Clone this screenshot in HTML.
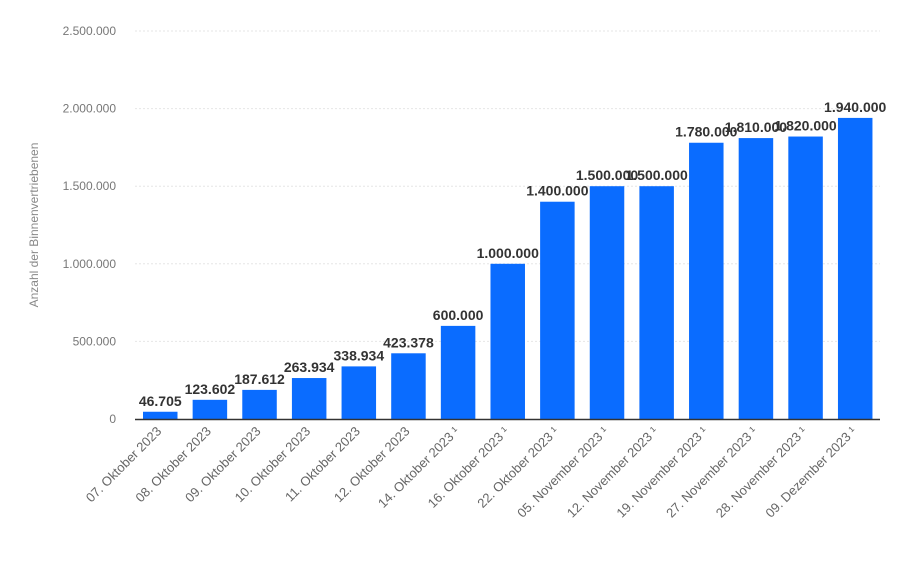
<!DOCTYPE html>
<html><head><meta charset="utf-8"><style>
html,body{margin:0;padding:0;background:#fff;}
svg{display:block;font-family:"Liberation Sans","DejaVu Sans",sans-serif;}
</style></head><body>
<svg id="chart" width="900" height="562">
<defs><clipPath id="clip"><rect x="0" y="0" width="887" height="562"/></clipPath></defs>
<text transform="translate(38,225) rotate(-90)" text-anchor="middle" font-size="12" fill="#888">Anzahl der Binnenvertriebenen</text>
<g id="grid"></g><g id="bars" clip-path="url(#clip)"></g><g id="xlabels"></g>
</svg>
<script>
const categories=["07. Oktober 2023","08. Oktober 2023","09. Oktober 2023","10. Oktober 2023","11. Oktober 2023","12. Oktober 2023","14. Oktober 2023 ¹","16. Oktober 2023 ¹","22. Oktober 2023 ¹","05. November 2023 ¹","12. November 2023 ¹","19. November 2023 ¹","27. November 2023 ¹","28. November 2023 ¹","09. Dezember 2023 ¹"];
const values=[46705,123602,187612,263934,338934,423378,600000,1000000,1400000,1500000,1500000,1780000,1810000,1820000,1940000];
const valueLabels=["46.705","123.602","187.612","263.934","338.934","423.378","600.000","1.000.000","1.400.000","1.500.000","1.500.000","1.780.000","1.810.000","1.820.000","1.940.000"];
const yTicks=[0,500000,1000000,1500000,2000000,2500000];
const yTickLabels=["0","500.000","1.000.000","1.500.000","2.000.000","2.500.000"];
const NS="http://www.w3.org/2000/svg";
const y0=419,yTop=31,yMax=2500000,x0=143,pitch=49.64,bw=34.5;
const y=v=>y0-(v/yMax)*(y0-yTop);
const x=i=>x0+i*pitch;
function mk(t,a,p){const e=document.createElementNS(NS,t);for(const k in a)e.setAttribute(k,a[k]);p.appendChild(e);return e;}
const grid=document.getElementById('grid'),bars=document.getElementById('bars'),xl=document.getElementById('xlabels');
yTicks.forEach((v,i)=>{
 if(i>0){const l=mk('line',{x1:135,x2:880,y1:y(v),y2:y(v),stroke:'#e6e6e6','stroke-dasharray':'2,2'},grid);
 
 }
 const t=mk('text',{x:116,y:y(v)+4,'text-anchor':'end','font-size':12,fill:'#777'},grid);
 
 
 t.textContent=yTickLabels[i];
});
values.forEach((v,i)=>{
 const r=mk('rect',{x:x(i),y:y(v),width:bw,height:y0-y(v),fill:'#0a6cff'},bars);
 
 
 const t=mk('text',{x:x(i)+bw/2,y:y(v)-6,'text-anchor':'middle','font-size':14,'font-weight':'bold',fill:'#333'},bars);
 
 
 t.textContent=valueLabels[i];
 const c=x(i)+bw/2+2;
 const xt=mk('text',{transform:`translate(${c},432) rotate(-45)`,'text-anchor':'end','font-size':13,fill:'#666'},xl);
 
 
 xt.textContent=categories[i];
});
const ax=mk('line',{x1:135,x2:880,y1:y0+0.5,y2:y0+0.5,stroke:'#333','stroke-width':1.5},xl);


</script>
</body></html>
